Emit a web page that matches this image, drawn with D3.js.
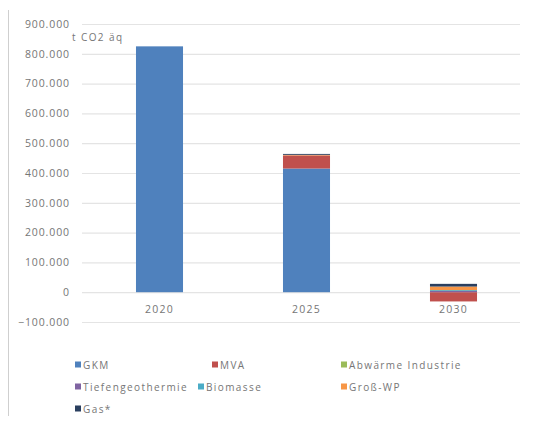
<!DOCTYPE html>
<html>
<head>
<meta charset="utf-8">
<script src="https://cdn.jsdelivr.net/npm/d3@7"></script>
<style>
  html, body { margin: 0; padding: 0; background: #fff; }
  svg { display: block; }
  text { font-family: "Open Sans", "DejaVu Sans", sans-serif; fill: #767676; }
</style>
</head>
<body>
<svg id="chart" width="535" height="421"></svg>
<script>
// Emissions by heat source, t CO2 äq
const years = ["2020", "2025", "2030"];
const sources = ["GKM", "MVA", "Abwärme Industrie", "Tiefengeothermie", "Biomasse", "Groß-WP", "Gas*"];
const colors = ["#4f81bd", "#c0504d", "#9bbb59", "#8064a2", "#4bacc6", "#f79646", "#2a3f5f"];
const gkm        = [825000, 415000, 0];
const mva        = [0, 44000, -31000];
const abwaerme   = [0, 0, 0];
const tiefengeo  = [0, 0, 4000];
const biomasse   = [0, 0, 3000];
const grossWP    = [0, 2000, 12000];
const gas        = [0, 3000, 9000];
const yTicks = [-100000, 0, 100000, 200000, 300000, 400000, 500000, 600000, 700000, 800000, 900000];
const unitLabel = "t CO2 äq";

const seriesValues = [gkm, mva, abwaerme, tiefengeo, biomasse, grossWP, gas];
const table = years.map((yr, i) => {
  const row = { year: yr };
  sources.forEach((s, k) => { row[s] = seriesValues[k][i]; });
  return row;
});

const svg = d3.select("#chart");

const x = d3.scaleBand().domain(years).range([86, 527]).paddingInner(0.68).paddingOuter(0.34);
const y = d3.scaleLinear().domain([-100000, 900000]).range([322, 24]);
const color = d3.scaleOrdinal().domain(sources).range(colors);

const fmt = v => v === 0 ? "0" : d3.format(",")(v).replace(/,/g, ".");

// left frame line
svg.append("line").attr("x1", 8.5).attr("x2", 8.5).attr("y1", 10).attr("y2", 416)
  .attr("stroke", "#cfcfcf").attr("stroke-width", 1);

// gridlines and value axis
const yAxis = d3.axisLeft(y).tickValues(yTicks).tickFormat(fmt).tickSize(-(520 - 82)).tickPadding(12);
const gy = svg.append("g").attr("transform", "translate(82,0)").call(yAxis);
gy.select(".domain").remove();
gy.selectAll(".tick line").attr("stroke", "#e4e4e4").attr("stroke-width", 1.2);
gy.selectAll(".tick text").attr("font-size", 10.5).attr("letter-spacing", "0.9px").attr("fill", "#767676");

// stacked bars
const stack = d3.stack().keys(sources).offset(d3.stackOffsetDiverging);
const layers = stack(table);
svg.append("g").selectAll("g").data(layers).join("g")
  .attr("fill", d => color(d.key))
  .selectAll("rect").data(d => d).join("rect")
  .attr("x", d => x(d.data.year))
  .attr("width", x.bandwidth())
  .attr("y", d => y(Math.max(d[0], d[1])))
  .attr("height", d => Math.abs(y(d[0]) - y(d[1])));

// category axis labels
const xAxis = d3.axisBottom(x).tickSize(0).tickPadding(0);
const gx = svg.append("g").attr("transform", "translate(0,306)").call(xAxis);
gx.select(".domain").remove();
gx.selectAll(".tick text").attr("font-size", 10.5).attr("letter-spacing", "1.2px").attr("fill", "#767676")
  .attr("dy", "0.71em");

// unit label
svg.append("text").attr("x", 72).attr("y", 41).attr("font-size", 10).attr("letter-spacing", "1.4px")
  .text(unitLabel);

// legend
const legendPos = [
  [75, 365], [212, 365], [341, 365],
  [75, 387], [198, 387], [341, 387],
  [75, 409]
];
const lg = svg.append("g").selectAll("g").data(sources).join("g")
  .attr("transform", (d, i) => `translate(${legendPos[i][0]},${legendPos[i][1]})`);
lg.append("rect").attr("x", 0).attr("y", -3.5).attr("width", 6).attr("height", 6).attr("fill", d => color(d));
lg.append("text").attr("x", 8).attr("y", 0).attr("dy", "0.35em").attr("font-size", 10)
  .attr("letter-spacing", "1.4px").text(d => d);
</script>
</body>
</html>
